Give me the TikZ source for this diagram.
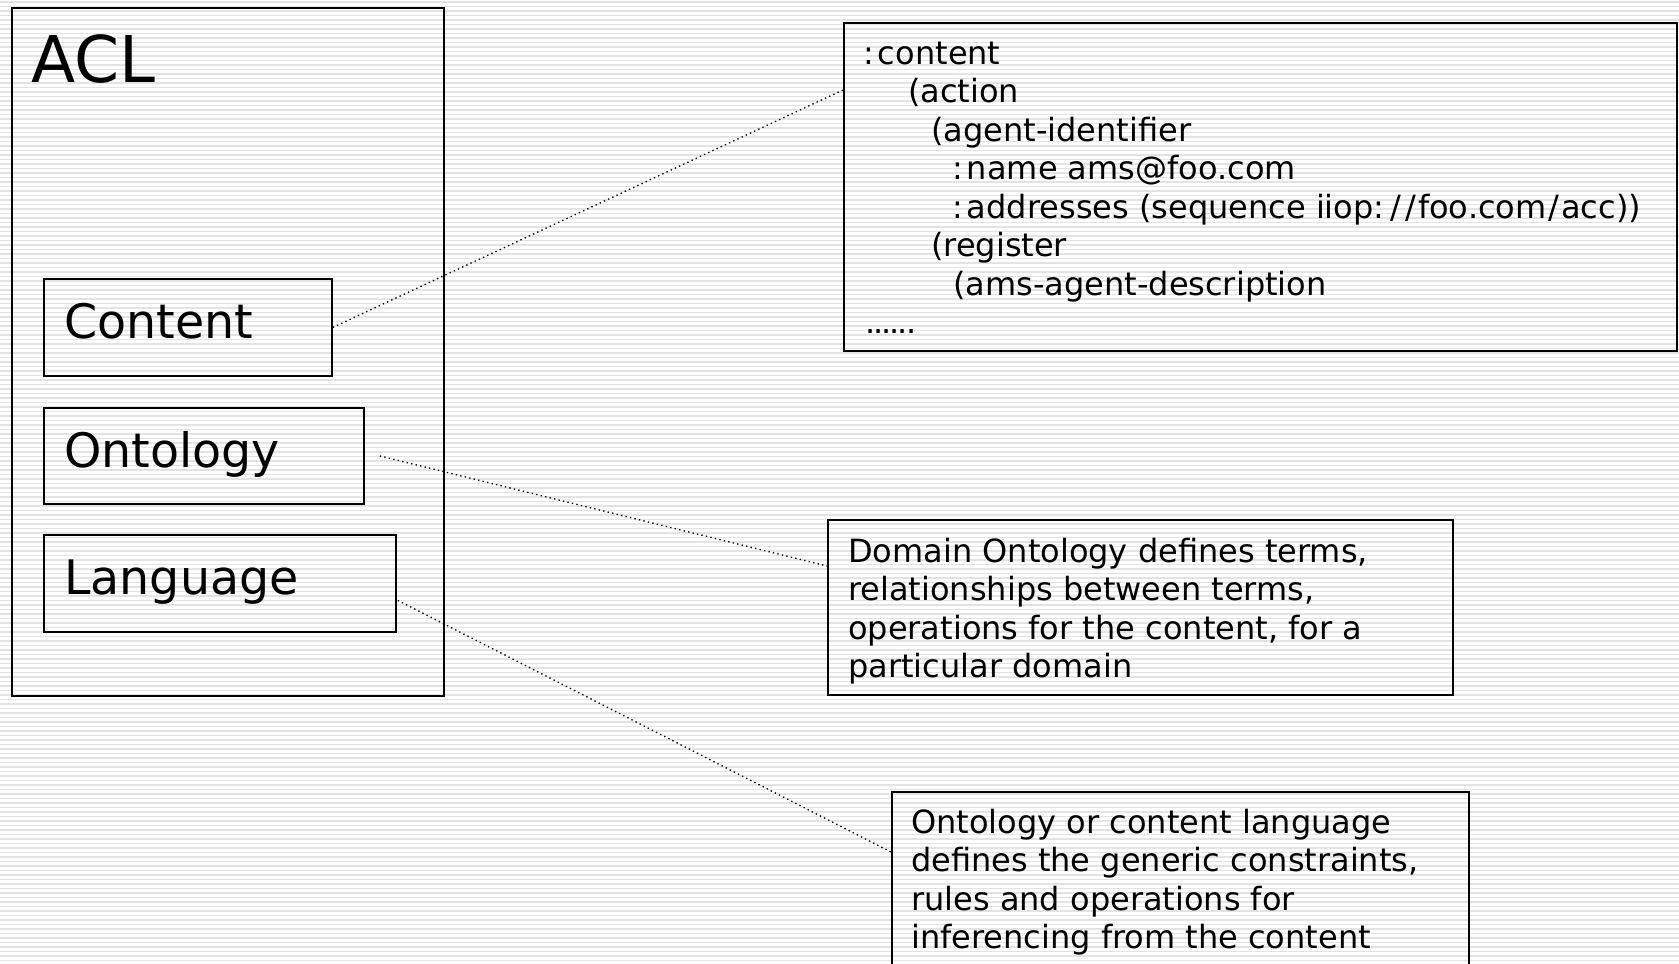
\documentclass[tikz,border=0pt]{standalone}
\usepackage{fontspec}
\setmainfont{DejaVu Sans}
\usetikzlibrary{calc}

\tikzset{
  stripe/.style={draw=black!11, line width=1.1pt},
  frame/.style={draw=black, line width=1.8pt, inner sep=0pt, anchor=north west},
  link/.style={draw=black, line width=1.3pt, dash pattern=on 1.4pt off 3.2pt},
  title/.style={inner sep=0pt, anchor=base west, font=\fontsize{64.5}{70}\selectfont},
  label/.style={inner sep=0pt, anchor=base west, font=\fontsize{47.5}{52}\selectfont},
  body/.style={inner sep=0pt, anchor=base west, font=\fontsize{32}{38.5}\selectfont},
}
\newcommand{\rows}[1]{\begin{tabular}[t]{@{}l@{}}#1\end{tabular}}
% wider colon and slash as set in the listing
\newcommand{\kcol}{:\kern4pt}
\newcommand{\kslash}{\kern2pt/\kern2pt}
\newcommand{\tightdots}{.\kern-2pt.\kern-2pt.\kern-2pt.\kern-2pt.\kern-2pt.}

\begin{document}
\begin{tikzpicture}[x=1pt,y=-1pt]
  \useasboundingbox (0,0) rectangle (1679,964);
  \begin{scope}
    \clip (0,0) rectangle (1679,964);
    % striped backdrop
    \foreach \yy in {2,6.5,...,964} {
      \draw[stripe] (0,\yy) -- (1679,\yy);
    }

    % ACL container and its three parts
    \node[frame, minimum width=432pt, minimum height=688pt] (acl) at (11,7) {};
    \node[title] (acltext) at (31,82) {ACL};

    \node[frame, minimum width=288pt, minimum height=97pt] (content) at (43,278) {};
    \node[label] (contenttext) at (64,338) {Content};

    \node[frame, minimum width=320pt, minimum height=96pt] (ontology) at (43,407) {};
    \node[label] (ontologytext) at (64,467) {Ontology};

    \node[frame, minimum width=352pt, minimum height=97pt] (language) at (43,534) {};
    \node[label] (languagetext) at (64,594) {Language};

    % content expression
    \node[frame, minimum width=833pt, minimum height=328pt] (code) at (843,22) {};
    \node[body] (codetext) at (863,64) {\rows{%
      \kcol content\\
      \hspace*{45pt}(action\\
      \hspace*{68pt}(agent-identifier\\
      \hspace*{89pt}\kcol name ams@foo.com\\
      \hspace*{89pt}\kcol addresses (sequence iiop\kcol\kslash\kslash foo.com\kslash acc))\\
      \hspace*{68pt}(register\\
      \hspace*{90pt}(ams-agent-description\\
      \hspace*{2pt}\tightdots}};

    % ontology description
    \node[frame, minimum width=625pt, minimum height=175pt] (ontodesc) at (827,519) {};
    \node[body] (ontodesctext) at (848,562) {\rows{%
      Domain Ontology defines terms,\\
      relationships between terms,\\
      operations for the content, for a\\
      particular domain}};

    % language description
    \node[frame, minimum width=577pt, minimum height=200pt] (langdesc) at (891,791) {};
    \node[body] (langdesctext) at (911,833) {\rows{%
      Ontology or content language\\
      defines the generic constraints,\\
      rules and operations for\\
      inferencing from the content}};

    % dotted connectors
    \coordinate (ontostart) at ($(ontology.east)+(15,0)$);
    \coordinate (langstart) at ($(language.east)+(1,17)$);
    \coordinate (codeend) at ($(code.north west)+(0,68)$);
    \coordinate (ontoend) at ($(ontodesc.north west)+(0,47)$);
    \coordinate (langend) at ($(langdesc.north west)+(0,61)$);

    \draw[link] (content.east) -- (codeend);
    \draw[link] (ontostart) -- (ontoend);
    \draw[link] (langstart) -- (langend);
  \end{scope}
\end{tikzpicture}
\end{document}
